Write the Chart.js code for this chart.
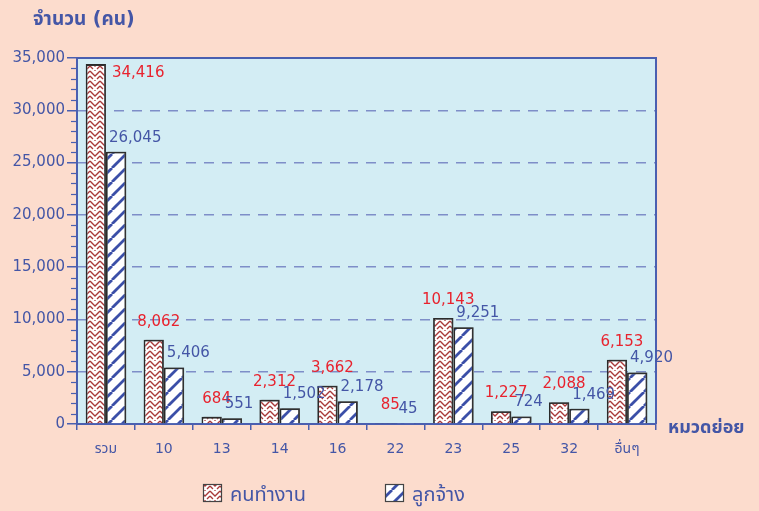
<!DOCTYPE html>
<html><head><meta charset="utf-8">
<script src="https://cdn.jsdelivr.net/npm/chart.js@4/dist/chart.umd.min.js"></script>
<style>
html,body{margin:0;padding:0;background:#fcdccd;}
#wrap{width:759px;height:511px;position:relative;}
</style></head>
<body><div id="wrap"><canvas id="c" width="759" height="511"></canvas></div>
<script>
const categories = ['รวม','10','13','14','16','22','23','25','32','อื่นๆ'];
const workers   = [34416, 8062, 684, 2312, 3662, 85, 10143, 1227, 2088, 6153];
const employees = [26045, 5406, 551, 1502, 2178, 45, 9251, 724, 1469, 4920];
const seriesNames = ['คนทำงาน','ลูกจ้าง'];
const yTicks = [0,5000,10000,15000,20000,25000,30000,35000];

const FONT = '"DejaVu Sans", Tahoma, "Noto Sans Thai", sans-serif';
const BLUE_TXT = '#4456a6';
const RED_TXT = '#e8232e';

function redPattern(){
  const c=document.createElement('canvas'); c.width=10; c.height=10;
  const g=c.getContext('2d');
  g.fillStyle='#ffffff'; g.fillRect(0,0,10,10);
  g.strokeStyle='#a8393a'; g.lineWidth=1.3;
  g.beginPath();
  g.moveTo(0,1); g.lineTo(5,6); g.lineTo(10,1);
  g.moveTo(0,6); g.lineTo(3,9);
  g.moveTo(10,6); g.lineTo(7,9);
  g.moveTo(5,1); g.lineTo(5,-1);
  g.stroke();
  return g.createPattern(c,'repeat');
}
function bluePattern(){
  const s=14;
  const c=document.createElement('canvas'); c.width=s; c.height=s;
  const g=c.getContext('2d');
  g.fillStyle='#ffffff'; g.fillRect(0,0,s,s);
  g.strokeStyle='#3b4fa8'; g.lineWidth=2.8;
  g.beginPath();
  for(let k=-1;k<=1;k++){ g.moveTo(k*s, s); g.lineTo(k*s+s, 0); }
  g.stroke();
  return g.createPattern(c,'repeat');
}
const pRed=redPattern(), pBlue=bluePattern();

const decor = {
  id:'decor',
  beforeDraw(chart){
    const {ctx, chartArea:a} = chart;
    ctx.save();
    ctx.fillStyle='#d3edf4';
    ctx.fillRect(a.left,a.top,a.right-a.left,a.bottom-a.top);
    ctx.restore();
  },
  beforeDatasetsDraw(chart){
    const ctx=chart.ctx; ctx.save();
    ctx.shadowColor='rgba(60,60,60,0.45)'; ctx.shadowOffsetX=2; ctx.shadowOffsetY=-1; ctx.shadowBlur=1;
  },
  afterDatasetsDraw(chart){
    const ctx=chart.ctx; ctx.restore();
    const a=chart.chartArea;
    ctx.save();
    ctx.strokeStyle='#4a5fb0'; ctx.lineWidth=2;
    ctx.beginPath(); ctx.moveTo(a.left,a.top); ctx.lineTo(a.right,a.top); ctx.lineTo(a.right,a.bottom); ctx.stroke();
    const ys=chart.scales.y;
    ctx.lineWidth=1.2;
    for(let v=0; v<=35000; v+=1000){
      if(v%5000===0) continue;
      const y=Math.round(ys.getPixelForValue(v))+0.5;
      ctx.beginPath(); ctx.moveTo(a.left-6,y); ctx.lineTo(a.left,y); ctx.stroke();
    }
    ctx.restore();
    ctx.save();
    ctx.font='15px '+FONT;
    ctx.textBaseline='middle';
    const fmt=v=>v.toLocaleString('en-US');
    chart.data.datasets.forEach((ds,di)=>{
      const meta=chart.getDatasetMeta(di);
      meta.data.forEach((bar,i)=>{
        const v=ds.data[i];
        const txt=fmt(v);
        const half=bar.width/2;
        let x,y,align;
        if(di===0){
          x=bar.x+5; y=bar.y-18; align='center';
          if(y<a.top+10){ x=bar.x+half+6; y=bar.y+9; align='left'; }
          ctx.fillStyle=RED_TXT;
        } else {
          x=bar.x-half+3; y=bar.y-14; align='left';
          if(y<a.top+10){ x=bar.x+half+4; y=bar.y+9; }
          ctx.fillStyle=BLUE_TXT;
        }
        ctx.textAlign=align;
        ctx.fillText(txt,x,y);
      });
    });
    ctx.restore();
  },
  afterDraw(chart){
    const ctx=chart.ctx;
    ctx.save();
    ctx.fillStyle=BLUE_TXT;
    ctx.textBaseline='middle';
    ctx.font='bold 19px '+FONT;
    ctx.textAlign='left';
    ctx.fillText('จำนวน (คน)',33,20);
    ctx.font='bold 18px '+FONT;
    ctx.fillText('หมวดย่อย',668,428);
    const items=[{x:203,fill:pRed},{x:385,fill:pBlue}];
    ctx.font='20px '+FONT;
    items.forEach((it,k)=>{
      ctx.fillStyle=it.fill;
      ctx.fillRect(it.x,484,18,17);
      ctx.strokeStyle='#444'; ctx.lineWidth=1.2;
      ctx.strokeRect(it.x+0.5,484.5,18,17);
      ctx.fillStyle=BLUE_TXT;
      ctx.fillText(seriesNames[k],it.x+27,496);
    });
    ctx.restore();
  }
};

new Chart(document.getElementById('c'),{
  type:'bar',
  data:{
    labels:categories,
    datasets:[
      {label:seriesNames[0],data:workers,backgroundColor:pRed,borderColor:'#2a2a2a',borderWidth:1.8,categoryPercentage:0.7,barPercentage:1.0},
      {label:seriesNames[1],data:employees,backgroundColor:pBlue,borderColor:'#2a2a2a',borderWidth:1.8,categoryPercentage:0.7,barPercentage:1.0}
    ]
  },
  options:{
    responsive:false,animation:false,
    layout:{padding:{left:0,right:103,top:58,bottom:0}},
    plugins:{legend:{display:false},tooltip:{enabled:false}},
    scales:{
      x:{
        grid:{offset:true,drawOnChartArea:false,color:'#4a5fb0',lineWidth:1.5,tickLength:6},
        border:{color:'#4a5fb0',width:2},
        ticks:{color:BLUE_TXT,font:{family:FONT,size:14},padding:11,maxRotation:0},
        afterFit(s){ s.height=87; }
      },
      y:{
        min:0,max:35000,
        afterBuildTicks(s){ s.ticks=yTicks.map(v=>({value:v})); },
        grid:{color:'#7e8ec8',lineWidth:1.5,tickLength:10,tickColor:'#4a5fb0',tickBorderDash:[],drawTicks:true},
        border:{color:'#4a5fb0',width:2,dash:[10,8]},
        ticks:{color:BLUE_TXT,font:{family:FONT,size:15},padding:2,callback:v=>Number(v).toLocaleString('en-US')},
        afterFit(s){ s.width=77; }
      }
    }
  },
  plugins:[decor]
});
</script></body></html>
